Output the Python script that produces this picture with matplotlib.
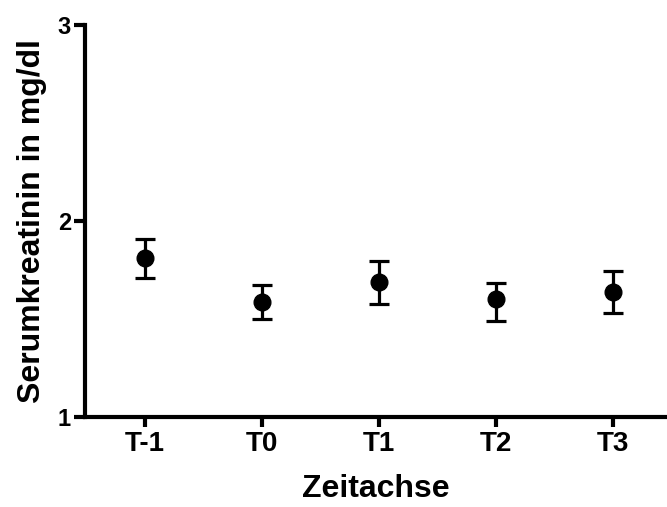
import matplotlib
matplotlib.use("Agg")
import matplotlib.pyplot as plt

# Serumkreatinin (mean +/- SEM) per time point
zeitpunkte = ["T-1", "T0", "T1", "T2", "T3"]
mittelwert = [1.811, 1.587, 1.689, 1.600, 1.640]
fehler_oben = [0.097, 0.086, 0.107, 0.084, 0.105]
fehler_unten = [0.102, 0.087, 0.112, 0.110, 0.109]

plt.rcParams['font.family'] = ['Liberation Sans', 'DejaVu Sans']
plt.rcParams['font.weight'] = 'bold'

fig = plt.figure(figsize=(6.67, 5.07), dpi=100)
ax = fig.add_axes([0.1274, 0.1775, 0.8726, 0.7732])

x = list(range(len(zeitpunkte)))
ax.errorbar(x, mittelwert, yerr=[fehler_unten, fehler_oben], fmt='o', color='black',
            markersize=12, elinewidth=2.3, capsize=7, capthick=2.3)

ax.set_xlim(-0.513, 4.46)
ax.set_ylim(1, 3)
ax.set_yticks([1, 2, 3])
ax.set_xticks(x)
ax.set_xticklabels(zeitpunkte)

for side in ['top', 'right']:
    ax.spines[side].set_visible(False)
for side in ['left', 'bottom']:
    ax.spines[side].set_linewidth(3)

ax.tick_params(axis='x', width=3, length=7, labelsize=20, pad=3)
ax.tick_params(axis='y', width=3, length=8, labelsize=17, pad=2)
for lab in ax.get_xticklabels() + ax.get_yticklabels():
    lab.set_fontweight('bold')

ax.set_xlabel('Zeitachse', fontsize=23, fontweight='bold', labelpad=12)
ax.set_ylabel('Serumkreatinin in mg/dl', fontsize=23, fontweight='bold', labelpad=8)

fig.savefig('out.png', dpi=100)
